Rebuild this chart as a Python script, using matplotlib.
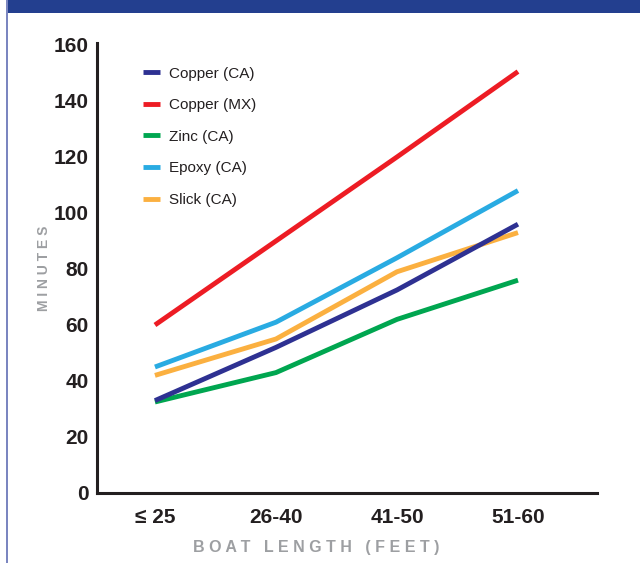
import numpy as np
import matplotlib
matplotlib.use('Agg')
import matplotlib.pyplot as plt
from matplotlib.patches import Rectangle
from matplotlib.lines import Line2D

''' Data '''

categories = ['≤ 25', '26-40', '41-50', '51-60']
copper_ca = [33, 52, 72.5, 96]
copper_mx = [60, 90, 120, 150.5]
zinc_ca = [32.5, 43, 62, 76]
epoxy_ca = [45, 61, 84, 108]
slick_ca = [42, 55, 79, 93]

series_names = ['Copper (CA)', 'Copper (MX)', 'Zinc (CA)', 'Epoxy (CA)', 'Slick (CA)']
series_values = [copper_ca, copper_mx, zinc_ca, epoxy_ca, slick_ca]
series_colors = ['#2e3192', '#ed1c24', '#00a650', '#29abe2', '#fbb040']

yticks = [0, 20, 40, 60, 80, 100, 120, 140, 160]

plt.rcParams['font.family'] = ['Liberation Sans', 'DejaVu Sans']

fig = plt.figure(figsize=(6.4, 5.63), dpi=100, facecolor='white')

# header band and left border
fig.patches.append(Rectangle((6/640, 1 - 13/563), 1, 13/563, transform=fig.transFigure,
                             facecolor='#233f8f', edgecolor='none'))
fig.patches.append(Rectangle((6/640, 0), 2/640, 1, transform=fig.transFigure,
                             facecolor='#7b86c0', edgecolor='none'))

ax = fig.add_axes([97/640, 70/563, 500/640, 450/563])

x = np.arange(len(categories))
# draw order: slick/epoxy behind copper like the reference
for i in [2, 4, 3, 0, 1]:
    ax.plot(x, series_values[i], color=series_colors[i], linewidth=3.5,
            solid_capstyle='butt', solid_joinstyle='round', zorder=3)

ax.set_xlim(-0.479, 3.653)
ax.set_ylim(0, 160.7)
ax.set_xticks(x)
ax.set_xticklabels(categories)
ax.set_yticks(yticks)
ax.tick_params(length=0, labelsize=15, colors='#231f20')
ax.tick_params(axis='x', pad=11)
ax.tick_params(axis='y', pad=6)
for lab in ax.get_xticklabels() + ax.get_yticklabels():
    lab.set_fontweight('bold')

for side in ['top', 'right']:
    ax.spines[side].set_visible(False)
for side in ['left', 'bottom']:
    ax.spines[side].set_linewidth(2.2)
    ax.spines[side].set_color('#231f20')

ax.set_ylabel('M I N U T E S', color='#9d9fa2', fontsize=10, fontweight='bold')
ax.yaxis.set_label_coords(-0.092, 0.5)
ax.set_xlabel('B O A T   L E N G T H   ( F E E T )', color='#9d9fa2', fontsize=11.5,
              fontweight='bold')
ax.xaxis.set_label_coords(0.438, -0.105)

handles = [Line2D([0], [0], color=c, linewidth=3.5, solid_capstyle='butt') for c in series_colors]
leg = ax.legend(handles, series_names, loc='upper left', bbox_to_anchor=(0.065, 0.978),
                frameon=False, fontsize=11, handlelength=1.1, handletextpad=0.6,
                labelspacing=1.15)
for t in leg.get_texts():
    t.set_color('#231f20')

fig.savefig('out.png', dpi=100, facecolor='white')
